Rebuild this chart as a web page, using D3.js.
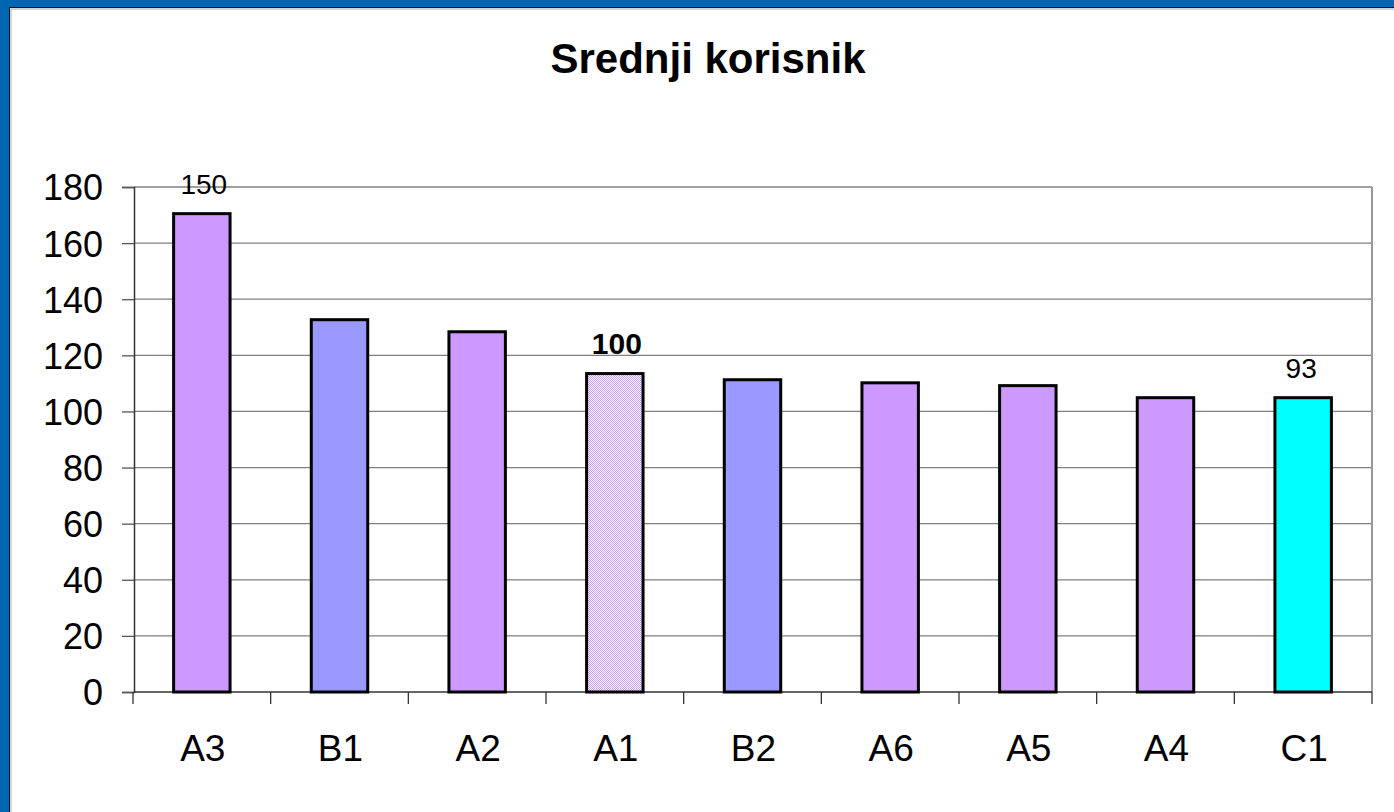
<!DOCTYPE html>
<html>
<head>
<meta charset="utf-8">
<script src="https://cdn.jsdelivr.net/npm/d3@7"></script>
<style>
  html, body { margin: 0; padding: 0; background: #0066b3; }
  svg { display: block; }
  text { font-family: "Liberation Sans", Arial, sans-serif; fill: #000; }
</style>
</head>
<body>
<div id="chart"></div>
<script>
// Data
const categories = ['A3', 'B1', 'A2', 'A1', 'B2', 'A6', 'A5', 'A4', 'C1']
const values = [170.5, 132.7, 128.4, 113.5, 111.3, 110.2, 109.2, 104.9, 104.9]
const groups = ['A', 'B', 'A', 'ref', 'B', 'A', 'A', 'A', 'C']
const valueLabels = ['150', null, null, '100', null, null, null, null, '93']
const yTicks = [0, 20, 40, 60, 80, 100, 120, 140, 160, 180]

// SVG Node
const width = 1394
const height = 812
const svg = d3.select('#chart').append('svg')
    .attr('width', width)
    .attr('height', height)

// Presentation
const palette = { A: '#cc99ff', B: '#9999ff', C: '#00ffff', ref: 'url(#dither)' }
const plot = { left: 134, right: 1372, top: 187, bottom: 692 }

const defs = svg.append('defs')
const dither = defs.append('pattern')
    .attr('id', 'dither')
    .attr('patternUnits', 'userSpaceOnUse')
    .attr('width', 2)
    .attr('height', 2)
dither.append('rect').attr('width', 2).attr('height', 2).attr('fill', '#ffffff')
dither.append('rect').attr('width', 1).attr('height', 1).attr('fill', '#cc99ff')
dither.append('rect').attr('x', 1).attr('y', 1).attr('width', 1).attr('height', 1).attr('fill', '#cc99ff')

// frame
svg.append('rect')
    .attr('x', 9.5).attr('y', 7.5)
    .attr('width', width).attr('height', height)
    .attr('fill', '#fff')
    .attr('stroke', '#111')
    .attr('stroke-width', 1)
svg.append('path')
    .attr('d', `M11,${height} V9 H${width}`)
    .attr('fill', 'none')
    .attr('stroke', '#aaa')
    .attr('stroke-width', 1)

svg.append('text')
    .attr('x', 708)
    .attr('y', 73)
    .attr('text-anchor', 'middle')
    .style('font-size', '42px')
    .style('font-weight', 'bold')
    .text('Srednji korisnik')

// Scale
const x = d3.scaleBand()
    .domain(categories)
    .range([plot.left - 1, plot.right])
    .paddingInner(0.59)
    .paddingOuter(0.295)
const y = d3.scaleLinear()
    .domain([0, 180])
    .range([plot.bottom, plot.top])

// Grid
svg.append('g')
    .selectAll('line')
    .data(yTicks.filter(d => d > 0))
    .join('line')
    .attr('x1', plot.left)
    .attr('x2', plot.right)
    .attr('y1', d => y(d))
    .attr('y2', d => y(d))
    .attr('stroke', '#808080')
    .attr('stroke-width', 1.3)

svg.append('line')
    .attr('x1', plot.right)
    .attr('x2', plot.right)
    .attr('y1', plot.top)
    .attr('y2', plot.bottom)
    .attr('stroke', '#999')
    .attr('stroke-width', 2)

// Axis
const yAxis = d3.axisLeft(y)
    .tickValues(yTicks)
    .tickSize(12)
    .tickPadding(19)
const yAxisG = svg.append('g')
    .attr('transform', `translate(${plot.left}, 0)`)
    .call(yAxis)
yAxisG.select('.domain').attr('stroke', '#333').attr('stroke-width', 1.5)
yAxisG.selectAll('.tick line').attr('stroke', '#555').attr('stroke-width', 1.3)
yAxisG.selectAll('.tick text')
    .style('font-size', '36px')
    .style('font-family', '"Liberation Sans", Arial, sans-serif')
    .attr('dy', '0.36em')

const bandStart = d => x(d) - (x.step() - x.bandwidth()) / 2
const tickXs = categories.map(bandStart).concat([plot.right])
svg.append('g')
    .selectAll('line')
    .data(tickXs)
    .join('line')
    .attr('x1', d => d)
    .attr('x2', d => d)
    .attr('y1', plot.bottom)
    .attr('y2', plot.bottom + 12)
    .attr('stroke', '#333')
    .attr('stroke-width', 1.3)
svg.append('line')
    .attr('x1', plot.left)
    .attr('x2', plot.right)
    .attr('y1', plot.bottom)
    .attr('y2', plot.bottom)
    .attr('stroke', '#333')
    .attr('stroke-width', 1.5)

svg.append('g')
    .selectAll('text')
    .data(categories)
    .join('text')
    .attr('x', d => x(d) + x.bandwidth() / 2 + 1)
    .attr('y', 761)
    .attr('text-anchor', 'middle')
    .style('font-size', '37px')
    .text(d => d)

// Bars
svg.append('g')
    .selectAll('rect')
    .data(categories)
    .join('rect')
    .attr('x', d => x(d))
    .attr('y', (d, i) => y(values[i]))
    .attr('width', x.bandwidth())
    .attr('height', (d, i) => y(0) - y(values[i]))
    .attr('fill', (d, i) => palette[groups[i]])
    .attr('stroke', '#000')
    .attr('stroke-width', 3)

// Value labels
svg.append('g')
    .selectAll('text')
    .data(categories.filter((d, i) => valueLabels[i]))
    .join('text')
    .attr('x', d => x(d) + x.bandwidth() / 2 + (d === 'C1' ? -2 : 2))
    .attr('y', d => y(values[categories.indexOf(d)]) - 20)
    .attr('text-anchor', 'middle')
    .style('font-size', d => d === 'A1' ? '30px' : '28px')
    .style('font-weight', d => d === 'A1' ? 'bold' : 'normal')
    .text(d => valueLabels[categories.indexOf(d)])
</script>
</body>
</html>
